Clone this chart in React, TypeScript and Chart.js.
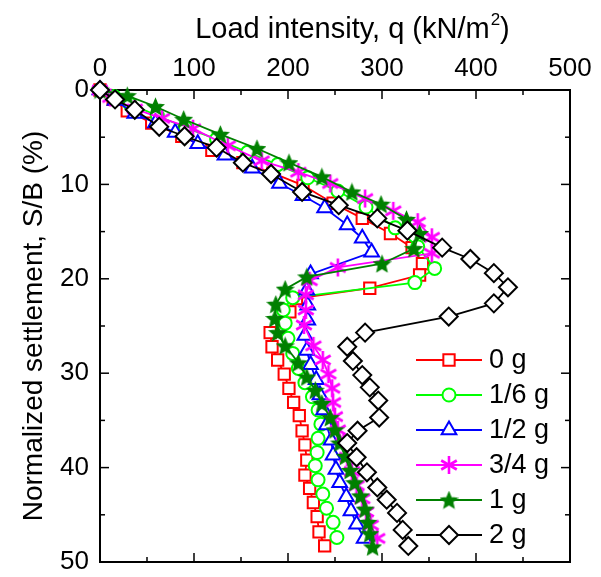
import React, { useEffect, useRef } from 'react';
import { Chart, registerables } from 'chart.js';
import { drawPoint } from 'chart.js/helpers';

Chart.register(...registerables);

const FONT = "'Liberation Sans', Arial, Helvetica, sans-serif";

// ---- data: load intensity q (kN/m2) and normalized settlement S/B (%) ----
const seriesNames = ['0 g', '1/6 g', '1/2 g', '3/4 g', '1 g', '2 g'];

const q0g = [0, 14, 29, 55, 87, 119, 152, 184, 216, 248, 279, 309, 332, 343, 340, 287, 209, 202, 181, 183, 189, 196, 201, 206, 212, 215, 218, 220, 218, 223, 227, 231, 233, 239];
const s0g = [0, 1.0, 2.2, 3.5, 4.9, 6.4, 7.7, 8.8, 10.1, 12.0, 13.6, 15.2, 16.7, 18.4, 19.6, 21.0, 22.1, 23.5, 25.7, 27.2, 28.6, 30.1, 31.6, 33.1, 34.5, 36.1, 37.6, 39.2, 40.8, 42.2, 43.7, 45.2, 46.8, 48.3];

const q16g = [0, 15, 32, 61, 91, 124, 157, 189, 221, 253, 283, 314, 338, 356, 335, 205, 195, 197, 200, 205, 211, 218, 226, 232, 235, 232, 231, 229, 232, 237, 241, 248, 252];
const s16g = [0, 0.7, 1.5, 2.7, 4.0, 5.2, 6.6, 7.9, 9.3, 10.7, 12.4, 14.6, 16.6, 18.9, 20.4, 22.0, 23.3, 24.7, 26.3, 27.9, 29.5, 31.0, 32.5, 33.9, 35.4, 36.9, 38.4, 39.8, 41.3, 42.8, 44.3, 45.8, 47.4];

const q12g = [0, 16, 37, 59, 80, 104, 133, 162, 191, 216, 239, 263, 279, 289, 224, 220, 221, 221, 218, 220, 224, 230, 234, 238, 241, 246, 248, 251, 255, 262, 267, 273, 281];
const s12g = [0, 1.1, 2.5, 3.5, 4.5, 5.7, 6.9, 8.3, 9.9, 11.2, 12.5, 14.3, 15.7, 17.2, 19.5, 21.2, 22.8, 24.4, 26.0, 27.6, 29.1, 30.7, 32.3, 33.9, 35.5, 37.1, 38.7, 40.2, 41.6, 43.1, 44.6, 46.0, 47.5];

const q34g = [0, 11, 37, 66, 99, 136, 172, 211, 245, 282, 312, 338, 353, 353, 253, 223, 219, 219, 217, 227, 237, 243, 247, 248, 250, 253, 259, 263, 268, 273, 279, 283, 288, 295];
const s34g = [0, 0.8, 2.0, 3.0, 4.1, 5.9, 7.5, 8.7, 9.9, 11.5, 12.8, 14.0, 15.6, 17.3, 18.8, 20.2, 21.7, 23.3, 24.9, 27.1, 28.6, 30.1, 31.6, 33.1, 34.6, 36.0, 37.4, 38.9, 40.4, 41.9, 43.3, 44.7, 46.1, 47.5];

const q1g = [0, 29, 59, 89, 128, 167, 201, 236, 268, 299, 326, 340, 334, 300, 220, 197, 187, 186, 189, 197, 211, 220, 229, 236, 245, 250, 255, 261, 266, 271, 277, 282, 285, 287, 290];
const s1g = [0, 0.6, 1.75, 3.1, 4.7, 6.2, 7.7, 9.2, 10.8, 12.1, 13.7, 15.2, 16.8, 18.4, 19.8, 21.1, 22.7, 24.2, 25.7, 27.1, 28.9, 30.4, 31.8, 33.2, 34.7, 36.0, 37.4, 38.8, 40.3, 41.6, 43.0, 44.4, 45.8, 47.0, 48.4];

const q2g = [0, 16, 37, 63, 90, 124, 152, 182, 215, 254, 295, 327, 364, 394, 419, 434, 419, 371, 282, 263, 269, 279, 287, 296, 297, 274, 263, 273, 284, 295, 305, 316, 322, 328];
const s2g = [0, 1.0, 2.1, 3.9, 4.9, 6.1, 7.7, 8.9, 10.8, 12.2, 13.6, 14.9, 16.7, 17.9, 19.4, 20.9, 22.6, 24.0, 25.7, 27.2, 28.7, 30.2, 31.5, 32.9, 34.7, 36.1, 37.4, 38.9, 40.5, 42.1, 43.4, 44.8, 46.6, 48.3];

const xMajorTicks = [0, 100, 200, 300, 400, 500];
const xMinorTicks = [50, 150, 250, 350, 450];
const yMajorTicks = [0, 10, 20, 30, 40, 50];
const yMinorTicks = [5, 15, 25, 35, 45];

// ---- custom marker images ----
function makeStar(size: number, color: string) {
  const c = document.createElement('canvas');
  c.width = size; c.height = size;
  const ctx = c.getContext('2d')!;
  const cx = size / 2, cy = size / 2 + 0.8, R = size / 2 - 1, r = R * 0.45;
  ctx.beginPath();
  for (let i = 0; i < 10; i++) {
    const ang = -Math.PI / 2 + (i * Math.PI) / 5;
    const rad = i % 2 === 0 ? R : r;
    ctx.lineTo(cx + rad * Math.cos(ang), cy + rad * Math.sin(ang));
  }
  ctx.closePath();
  ctx.fillStyle = color;
  ctx.fill();
  ctx.strokeStyle = color;
  ctx.lineWidth = 1.2;
  ctx.stroke();
  return c;
}

function makeAsterisk(size: number, color: string) {
  const c = document.createElement('canvas');
  c.width = size; c.height = size;
  const ctx = c.getContext('2d')!;
  const cx = size / 2, cy = size / 2, R = size / 2 - 1;
  ctx.strokeStyle = color;
  ctx.lineWidth = 2.6;
  ctx.lineCap = 'butt';
  [90, 30, -30].forEach((deg) => {
    const a = (deg * Math.PI) / 180;
    ctx.beginPath();
    ctx.moveTo(cx - R * Math.cos(a), cy - R * Math.sin(a));
    ctx.lineTo(cx + R * Math.cos(a), cy + R * Math.sin(a));
    ctx.stroke();
  });
  return c;
}

const framePlugin = {
  id: 'frameTicks',
  beforeDatasetsDraw(chart: any) {
    const { ctx, chartArea: a, scales } = chart;
    const x = scales.x, y = scales.y;
    ctx.save();
    ctx.strokeStyle = '#000';
    ctx.lineWidth = 1.5;
    const seg = (x1: number, y1: number, x2: number, y2: number) => {
      ctx.beginPath(); ctx.moveTo(x1, y1); ctx.lineTo(x2, y2); ctx.stroke();
    };
    const doX = (vals: number[], len: number) => vals.forEach((v) => {
      const p = x.getPixelForValue(v);
      seg(p, a.top, p, a.top + len);
      seg(p, a.bottom, p, a.bottom - len);
    });
    const doY = (vals: number[], len: number) => vals.forEach((v) => {
      const p = y.getPixelForValue(v);
      seg(a.left, p, a.left + len, p);
      seg(a.right, p, a.right - len, p);
    });
    doX(xMajorTicks, 9); doX(xMinorTicks, 5);
    doY(yMajorTicks, 9); doY(yMinorTicks, 5);
    ctx.lineWidth = 2;
    ctx.strokeRect(a.left, a.top, a.right - a.left, a.bottom - a.top);
    // x-axis title with superscript
    const main = 'Load intensity, q (kN/m';
    ctx.fillStyle = '#000';
    ctx.textBaseline = 'alphabetic';
    ctx.font = `29px ${FONT}`;
    const w1 = ctx.measureText(main).width;
    ctx.font = `17px ${FONT}`;
    const w2 = ctx.measureText('2').width;
    ctx.font = `29px ${FONT}`;
    const w3 = ctx.measureText(')').width;
    const total = w1 + w2 + w3;
    const sx = 352 - total / 2;
    const base = 38;
    ctx.textAlign = 'left';
    ctx.fillText(main, sx, base);
    ctx.font = `17px ${FONT}`;
    ctx.fillText('2', sx + w1 + 1, base - 13);
    ctx.font = `29px ${FONT}`;
    ctx.fillText(')', sx + w1 + w2 + 1, base);
    ctx.restore();
  },
};

const legendPlugin = {
  id: 'customLegend',
  afterDatasetsDraw(chart: any) {
    const { ctx } = chart;
    ctx.save();
    chart.data.datasets.forEach((ds: any, i: number) => {
      const yy = 360 + i * 35;
      ctx.strokeStyle = ds.borderColor;
      ctx.lineWidth = 2;
      ctx.beginPath(); ctx.moveTo(416, yy); ctx.lineTo(482, yy); ctx.stroke();
      ctx.fillStyle = ds.pointBackgroundColor;
      ctx.strokeStyle = ds.pointBorderColor;
      ctx.lineWidth = ds.pointBorderWidth;
      drawPoint(ctx, { pointStyle: ds.pointStyle, radius: ds.pointRadius, rotation: 0, borderWidth: ds.pointBorderWidth }, 449, yy);
      ctx.fillStyle = '#000';
      ctx.font = `27px ${FONT}`;
      ctx.textAlign = 'left';
      ctx.textBaseline = 'middle';
      ctx.fillText(ds.label, 489, yy + 1);
    });
    ctx.restore();
  },
};

export default function App() {
  const ref = useRef<HTMLCanvasElement>(null);
  useEffect(() => {
    const star = makeStar(19, '#008000');
    const aster = makeAsterisk(20, '#FF00FF');
    const specs = [
      { q: q0g, s: s0g, color: '#FF0000', style: 'rect', r: 8 },
      { q: q16g, s: s16g, color: '#00FF00', style: 'circle', r: 6.5 },
      { q: q12g, s: s12g, color: '#0000FF', style: 'triangle', r: 8.5 },
      { q: q34g, s: s34g, color: '#FF00FF', style: aster, r: 10 },
      { q: q1g, s: s1g, color: '#008000', style: star, r: 9 },
      { q: q2g, s: s2g, color: '#000000', style: 'rectRot', r: 9 },
    ];
    const datasets = specs.map((sp, i) => ({
      label: seriesNames[i],
      data: sp.q.map((v, k) => ({ x: v, y: sp.s[k] })),
      borderColor: sp.color,
      backgroundColor: sp.color,
      borderWidth: 1.8,
      pointStyle: sp.style as any,
      pointRadius: sp.r,
      pointHoverRadius: sp.r,
      pointBackgroundColor: '#FFFFFF',
      pointBorderColor: sp.color,
      pointBorderWidth: 2,
      fill: false,
      tension: 0,
      clip: false as any,
      order: 5 - i,
    }));
    const chart = new Chart(ref.current!, {
      type: 'line',
      data: { datasets },
      options: {
        animation: false,
        responsive: false,
        maintainAspectRatio: false,
        layout: { padding: { left: 0, top: 0, right: 31, bottom: 15 } },
        plugins: { legend: { display: false }, tooltip: { enabled: false }, title: { display: false } },
        scales: {
          x: {
            type: 'linear',
            position: 'top',
            min: 0,
            max: 500,
            grid: { display: false, drawTicks: false },
            border: { display: false },
            ticks: { stepSize: 100, autoSkip: false, maxRotation: 0, padding: 8, color: '#000', font: { family: FONT, size: 26, lineHeight: 1.0 } },
            afterFit: (s: any) => { s.height = 90; s.paddingLeft = 0; s.paddingRight = 0; },
          },
          y: {
            type: 'linear',
            reverse: true,
            min: 0,
            max: 50,
            grid: { display: false, drawTicks: false },
            border: { display: false },
            ticks: { stepSize: 10, autoSkip: false, padding: 11, color: '#000', font: { family: FONT, size: 26, lineHeight: 1.0 } },
            title: { display: true, text: 'Normalized settlement, S/B (%)', color: '#000', font: { family: FONT, size: 28 }, padding: { top: 17, bottom: 0 } },
            afterFit: (s: any) => { s.width = 100; s.paddingTop = 0; s.paddingBottom = 0; },
          },
        },
      },
      plugins: [framePlugin, legendPlugin],
    });
    return () => chart.destroy();
  }, []);
  return (
    <div style={{ position: 'fixed', left: 0, top: 0, width: 601, height: 577, background: '#fff' }}>
      <canvas ref={ref} width={601} height={577} style={{ display: 'block' }} />
    </div>
  );
}
